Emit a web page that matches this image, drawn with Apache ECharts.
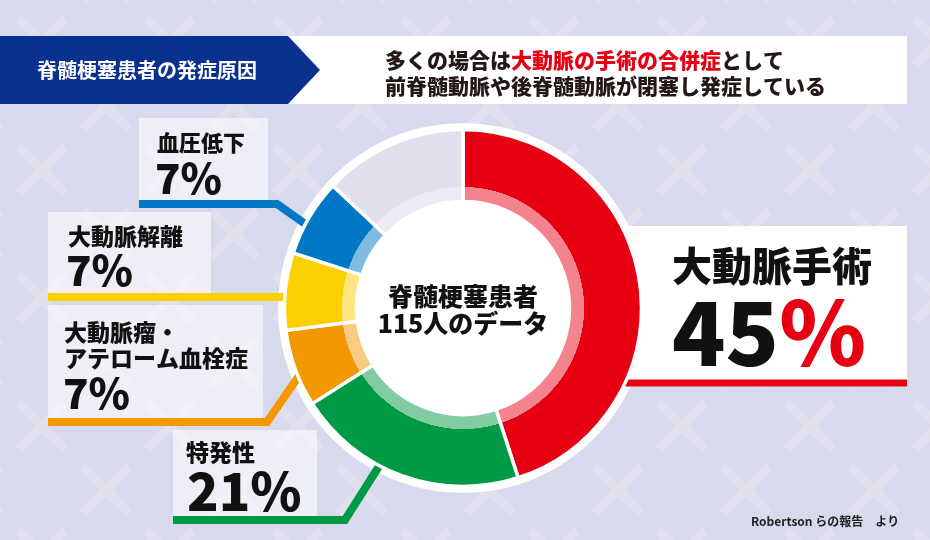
<!DOCTYPE html>
<html><head><meta charset="utf-8">
<script src="https://cdn.jsdelivr.net/npm/echarts@6/dist/echarts.min.js"></script>
<style>html,body{margin:0;padding:0;background:#d7d9ec}#c{width:930px;height:540px}</style>
</head><body><div id="c"></div>
<script>
// ---- data ----
const categories = ['大動脈手術', '特発性', '大動脈瘤・\nアテローム血栓症', '大動脈解離', '血圧低下', 'その他'];
const values = [45, 21, 7, 7, 7, 13];
const headerTitle = '脊髄梗塞患者の発症原因';
const headerLine1 = ['多くの場合は', '大動脈の手術の合併症', 'として'];
const headerLine2 = '前脊髄動脈や後脊髄動脈が閉塞し発症している';
const centerLines = ['脊髄梗塞患者', '115人のデータ'];
const sourceText = 'Robertson らの報告　より';

// ---- styles ----
const solid = ['#e60012', '#009a44', '#f39800', '#fccf00', '#0078c6', '#e1e0ef'];
const pale  = ['#f3838c', '#82cca3', '#f8cc84', '#fde680', '#80bbe2', '#ecebf5'];
const FONT = '"Noto Sans CJK JP", "Noto Sans", sans-serif';
const W = 900;
const CX = 463, CY = 308, R_OUT = 178.5, R_IN = 106.5, R_SPLIT = 121, R_RING = 185;

// background pattern tile
const tile = document.createElement('canvas');
tile.width = 128; tile.height = 128;
(function () {
  const g = tile.getContext('2d');
  g.fillStyle = '#d7d9ec'; g.fillRect(0, 0, 128, 128);
  g.strokeStyle = '#e2e0ef'; g.lineWidth = 9; g.lineCap = 'butt';
  const d = 23;
  [[42, 42], [106, 106], [-22, 106], [106, -22], [-22, -22]].forEach(([x, y]) => {
    g.beginPath(); g.moveTo(x - d, y - d); g.lineTo(x + d, y + d);
    g.moveTo(x + d, y - d); g.lineTo(x - d, y + d); g.stroke();
  });
})();

function txt(x, y, text, size, opts) {
  opts = opts || {};
  return {
    type: 'text', x: x, y: y, z: 10, silent: true,
    style: Object.assign({
      text: text, fill: opts.fill || '#111', fontSize: size, fontWeight: opts.weight || W, fontFamily: FONT,
      align: opts.align || 'left', verticalAlign: 'middle', lineHeight: opts.lineHeight || size * 1.2
    }, opts.extra || {})
  };
}
function box(x, y, w, h, fill, z) {
  return { type: 'rect', z: z == null ? 0 : z, silent: true, shape: { x: x, y: y, width: w, height: h }, style: { fill: fill } };
}
function line(pts, color, w) {
  return { type: 'polyline', z: 2, silent: true, shape: { points: pts }, style: { stroke: color, lineWidth: w || 8, fill: null, lineJoin: 'miter' } };
}
const pct = i => values[i] + '%';
const BOX = 'rgba(255,255,255,0.55)';
const rs = (fill, size) => ({ fill: fill, fontSize: size, fontWeight: W, fontFamily: FONT });

const graphics = [
  { type: 'rect', z: -5, silent: true, shape: { x: 0, y: 0, width: 930, height: 540 }, style: { fill: { image: tile, repeat: 'repeat' } } },
  // header
  box(285, 36, 622, 68, '#ffffff', 0),
  { type: 'polygon', z: 1, silent: true, shape: { points: [[0, 36], [288, 36], [320, 70], [288, 104], [0, 104]] }, style: { fill: '#0b318f' } },
  txt(147, 70, headerTitle, 20, { fill: '#ffffff', align: 'center', weight: 'bold' }),
  txt(385, 60, '{k|' + headerLine1[0] + '}{r|' + headerLine1[1] + '}{k|' + headerLine1[2] + '}', 21, {
    extra: { rich: { k: rs('#231815', 21), r: rs('#e60012', 21) } }
  }),
  txt(385, 86, headerLine2, 21, { fill: '#231815' }),

  // label boxes
  box(139, 118, 129, 82, BOX),
  box(48, 212, 163, 81, BOX),
  box(48, 305, 215, 113, BOX),
  box(173, 430, 144, 86, BOX),
  box(600, 226, 307, 154, '#ffffff', 0),

  // leader lines
  line([[139, 204], [277, 204], [318, 233]], solid[4]),
  line([[48, 297], [300, 297]], solid[3]),
  line([[48, 422], [267, 422], [303, 370]], solid[2]),
  line([[173, 520], [345, 520], [388, 452]], solid[1]),
  line([[600, 383], [907, 383]], solid[0], 7),

  // label texts
  txt(157, 143, categories[4], 22),
  txt(155, 178, pct(4), 42),
  txt(68, 236, categories[3], 23),
  txt(66, 270, pct(3), 42),
  txt(64, 332, categories[2].split('\n')[0], 23),
  txt(64, 358, categories[2].split('\n')[1], 23),
  txt(63, 393, pct(2), 42),
  txt(186, 452, categories[1], 23),
  txt(187, 491, pct(1), 52),
  txt(772, 266, categories[0], 40, { align: 'center' }),
  txt(769, 333, '{n|' + values[0] + '}{p|%}', 88, {
    align: 'center',
    extra: { rich: { n: rs('#111', 88), p: rs('#e60012', 88) } }
  }),

  // center
  txt(CX, 296, centerLines[0], 25, { align: 'center' }),
  txt(CX, 323, centerLines[1], 25, { align: 'center' }),

  // source
  txt(751, 521, sourceText, 12, { fill: '#222', weight: 'bold' })
];

const chart = echarts.init(document.getElementById('c'), null, { renderer: 'canvas' });
chart.setOption({
  animation: false,
  backgroundColor: '#d7d9ec',
  graphic: { elements: graphics },
  series: [
    {
      type: 'pie', z: 1, silent: true, center: [CX, CY], radius: [0, R_RING],
      label: { show: false }, labelLine: { show: false }, emphasis: { disabled: true },
      itemStyle: { color: '#ffffff' }, data: [{ value: 1, name: 'ring' }]
    },
    {
      type: 'pie', z: 3, silent: true, center: [CX, CY], radius: [R_IN, R_OUT],
      startAngle: 90, clockwise: true,
      label: { show: false }, labelLine: { show: false }, emphasis: { disabled: true },
      itemStyle: { borderColor: '#ffffff', borderWidth: 3.5 },
      data: categories.map((c, i) => ({
        name: c, value: values[i],
        itemStyle: {
          color: {
            type: 'radial', x: CX, y: CY, r: R_OUT, global: true,
            colorStops: [
              { offset: 0, color: pale[i] },
              { offset: R_SPLIT / R_OUT, color: pale[i] },
              { offset: R_SPLIT / R_OUT + 0.001, color: solid[i] },
              { offset: 1, color: solid[i] }
            ]
          }
        }
      }))
    }
  ]
});
</script></body></html>
